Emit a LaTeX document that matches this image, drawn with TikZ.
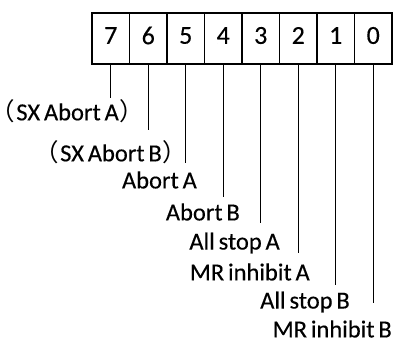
\documentclass[tikz,border=0pt]{standalone}
\usepackage{fontspec}
\setmainfont{Carlito}[WordSpace=0.7,FakeBold=0.3]
\newfontfamily\cjk{Noto Sans CJK SC}
\newcommand\lpar{\hspace*{-14pt}{\cjk （}\hspace*{1.5pt}}
\newcommand\rpar{\hspace*{0.5pt}{\cjk ）}\hspace*{-14pt}}
\begin{document}
\begin{tikzpicture}[x=1pt,y=-1pt,
  cell/.style={draw=black,line width=1.3pt,minimum width=37.5pt,minimum height=51pt,inner sep=0pt},
  digit/.style={font=\fontsize{26}{28}\selectfont,inner sep=0pt},
  lbl/.style={font=\fontsize{24.5}{26}\selectfont,inner sep=0pt,anchor=east},
  lead/.style={draw=black,line width=1.3pt}]
\useasboundingbox (0,0) rectangle (394,341);
\foreach \b [count=\i from 0] in {7,6,5,4,3,2,1,0}{
  \node[cell] (c\b) at ({92+37.5*(\i+0.5)},38.5) {};
  \node[digit] (d\b) at ([yshift=3pt]c\b.center) {\b};
}
\coordinate (e7) at (c7 |- 0,98);
\coordinate (e6) at (c6 |- 0,130);
\coordinate (e5) at (c5 |- 0,163);
\coordinate (e4) at (c4 |- 0,197);
\coordinate (e3) at (c3 |- 0,223);
\coordinate (e2) at (c2 |- 0,253);
\coordinate (e1) at (c1 |- 0,285);
\coordinate (e0) at (c0 |- 0,303);
\foreach \b in {7,6,5,4,3,2,1,0}{ \draw[lead] (c\b.south) -- (e\b); }
\node[lbl] (t7) at (130,111) {\lpar SX Abort A\rpar};
\node[lbl] (t6) at (173,152) {\lpar SX Abort B\rpar};
\node[lbl] (t5) at (197,180) {Abort A};
\node[lbl] (t4) at (240,212) {Abort B};
\node[lbl] (t3) at (280,243) {All stop A};
\node[lbl] (t2) at (310,272) {MR inhibit A};
\node[lbl] (t1) at (350,302) {All stop B};
\node[lbl] (t0) at (392,329) {MR inhibit B};
\end{tikzpicture}
\end{document}
